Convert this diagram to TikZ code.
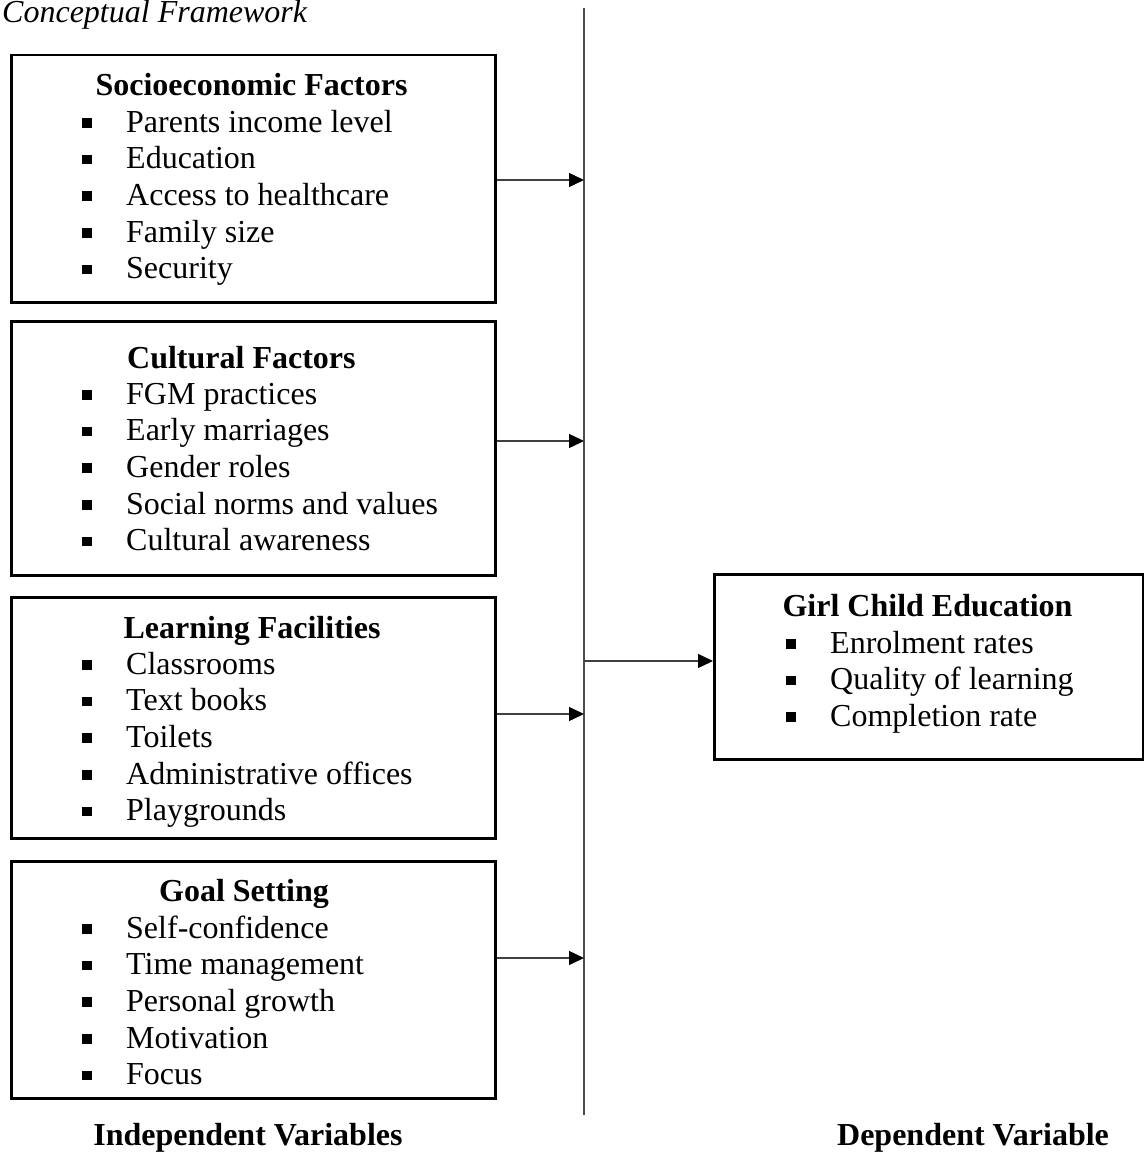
\documentclass[tikz,border=0pt]{standalone}
\usepackage{fontspec}
\setmainfont{Liberation Serif}
\usetikzlibrary{arrows.meta}
\tikzset{
  box/.style={draw=black, line width=2.5pt, anchor=north west, inner sep=0pt},
  txt/.style={anchor=base west, inner sep=0pt, font=\fontsize{32}{36.7}\selectfont},
  head/.style={anchor=base, inner sep=0pt, font=\fontsize{32}{36.7}\selectfont\bfseries},
  conn/.style={line width=1.4pt, draw=black!75, -{Triangle[length=15pt,width=14pt,fill=black,color=black]}},
  axis/.style={line width=1.4pt, draw=black!70},
}
\newcommand{\bul}{\makebox[44pt][l]{\rule[4.5pt]{9.5pt}{9.5pt}}}
\begin{document}
\begin{tikzpicture}[x=1pt,y=-1pt]
\useasboundingbox (0,0) rectangle (1143,1153);
% title
\node[anchor=base west, inner sep=0pt, font=\fontsize{32}{36.7}\selectfont\itshape] (title) at (2,23) {Conceptual Framework};
% boxes
\node[box, minimum width=484pt, minimum height=247pt] (b1) at (10,54) {};
\node[box, minimum width=484pt, minimum height=254pt] (b2) at (10,320) {};
\node[box, minimum width=484pt, minimum height=241pt] (b3) at (10,596) {};
\node[box, minimum width=484pt, minimum height=237pt] (b4) at (10,860) {};
\node[box, minimum width=429pt, minimum height=185pt] (b5) at (713,573) {};
% headings
\node[head] (h1) at (251.5,96) {Socioeconomic Factors};
\node[head, anchor=base west] (h2) at (127,368) {Cultural Factors};
\node[head] (h3) at (252,638) {Learning Facilities};
\node[head] (h4) at (244,901) {Goal Setting};
\node[head] (h5) at (927.5,616) {Girl Child Education};
% items
\foreach \t [count=\i] in {Parents income level, Education, Access to healthcare, Family size, Security}
  \node[txt] (s\i) at (82,{132+36.7*(\i-1)}) {\bul\t};
\foreach \t [count=\i] in {FGM practices, Early marriages, Gender roles, Social norms and values, Cultural awareness}
  \node[txt] (c\i) at (82,{404+36.7*(\i-1)}) {\bul\t};
\foreach \t [count=\i] in {Classrooms, Text books, Toilets, Administrative offices, Playgrounds}
  \node[txt] (l\i) at (82,{674+36.7*(\i-1)}) {\bul\t};
\foreach \t [count=\i] in {Self-confidence, Time management, Personal growth, Motivation, Focus}
  \node[txt] (g\i) at (82,{938+36.7*(\i-1)}) {\bul\t};
\foreach \t [count=\i] in {Enrolment rates, Quality of learning, Completion rate}
  \node[txt] (e\i) at (786,{653+36.7*(\i-1)}) {\bul\t};
% vertical line
\coordinate (vtop) at (584,8);
\coordinate (vbot) at (584,1115);
\draw[axis] (vtop) -- (vbot);
% connectors
\coordinate (t1) at (584,180);
\coordinate (t2) at (584,441);
\coordinate (t3) at (584,714);
\coordinate (t4) at (584,958);
\coordinate (t5) at (584,661);
\draw[conn] (b1.east |- t1) -- (t1);
\draw[conn] (b2.east |- t2) -- (t2);
\draw[conn] (b3.east |- t3) -- (t3);
\draw[conn] (b4.east |- t4) -- (t4);
\draw[conn] (t5) -- (b5.west |- t5);
% bottom labels
\node[head] (iv) at (248,1145) {Independent Variables};
\node[head] (dv) at (973,1145) {Dependent Variable};
\end{tikzpicture}
\end{document}
